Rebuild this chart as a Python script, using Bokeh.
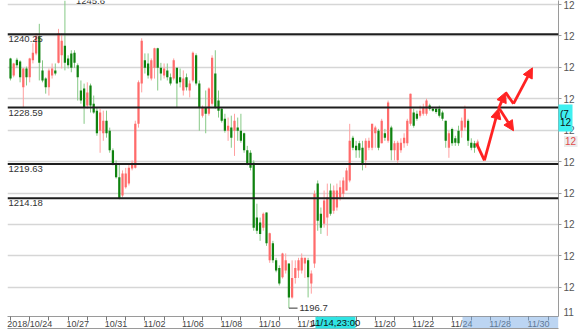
from bokeh.plotting import figure
from bokeh.models import (Span, Label, Arrow, NormalHead, FixedTicker, GridBox,
                          Range1d, ColumnDataSource)
from bokeh.embed import file_html
from bokeh.resources import INLINE
from bokeh.core.properties import value

# ---------------- data (4H candles, index = bar number) ----------------
opens = [1236.4, 1233.7, 1236.2, 1235.9, 1231.8, 1234.8, 1233.4, 1236.1, 1237.2, 1239.9,
         1234.5, 1233.2, 1231.8, 1233.7, 1234.5, 1235.7, 1236.9, 1238.4, 1236.4, 1237.2,
         1237.3, 1235.3, 1231.3, 1231.6, 1228.9, 1232.1, 1229.2, 1228.1, 1224.9, 1224.5,
         1226.5, 1224.9, 1221.8, 1219.7, 1217.5, 1214.6, 1215.9, 1216.5, 1218.9, 1219.0,
         1226.0, 1232.4, 1236.1, 1235.6, 1233.2, 1234.9, 1238.0, 1234.9, 1233.7, 1234.5,
         1233.4, 1233.2, 1234.9, 1233.4, 1231.3, 1233.4, 1231.3, 1232.9, 1236.9, 1232.4,
         1227.3, 1228.6, 1227.6, 1229.2, 1234.0, 1229.7, 1228.4, 1226.8, 1224.9, 1225.4,
         1224.9, 1225.4, 1224.9, 1224.5, 1221.8, 1221.4, 1219.8, 1211.1, 1210.3, 1209.5,
         1211.9, 1204.3, 1207.0, 1204.3, 1203.1, 1201.6, 1202.7, 1203.8, 1198.4, 1201.5,
         1202.7, 1202.7, 1203.8, 1204.3, 1200.6, 1203.8, 1216.5, 1211.7, 1210.1, 1211.1,
         1215.4, 1212.2, 1212.7, 1214.3, 1214.9, 1215.4, 1217.0, 1223.8, 1222.5, 1222.9,
         1222.2, 1220.2, 1222.2, 1222.2, 1224.5, 1224.9, 1222.9, 1224.5, 1223.3, 1225.4,
         1221.8, 1220.2, 1221.8, 1222.9, 1222.9, 1226.0, 1227.8, 1227.6, 1227.3, 1227.6,
         1227.6, 1228.9, 1228.4, 1228.4, 1228.4, 1227.8, 1226.5, 1222.2, 1225.2, 1223.7,
         1224.9, 1224.9, 1225.4, 1226.5, 1223.0, 1222.9, 1222.4]
highs = [1236.5, 1235.7, 1236.5, 1236.1, 1234.9, 1235.1, 1236.5, 1238.8, 1240.4, 1241.9,
         1236.1, 1233.4, 1234.8, 1235.6, 1235.6, 1241.1, 1240.4, 1245.6, 1236.9, 1237.7,
         1237.7, 1235.6, 1232.9, 1232.4, 1232.6, 1232.4, 1230.5, 1228.6, 1228.4, 1228.1,
         1228.1, 1225.4, 1222.1, 1220.2, 1219.7, 1218.6, 1219.0, 1219.7, 1220.2, 1226.5,
         1232.9, 1239.6, 1237.2, 1237.2, 1236.4, 1238.1, 1238.1, 1235.7, 1235.6, 1235.6,
         1234.0, 1236.4, 1234.9, 1234.8, 1234.5, 1234.0, 1232.9, 1237.5, 1237.2, 1232.9,
         1228.9, 1231.3, 1231.8, 1236.9, 1237.7, 1231.3, 1228.6, 1227.6, 1227.0, 1227.3,
         1227.6, 1227.0, 1227.6, 1224.6, 1222.5, 1221.8, 1220.2, 1213.3, 1211.1, 1211.9,
         1211.9, 1208.7, 1207.4, 1204.7, 1203.5, 1205.5, 1205.4, 1203.8, 1204.3, 1204.3,
         1204.7, 1205.4, 1204.7, 1204.7, 1202.7, 1215.4, 1217.0, 1212.7, 1215.4, 1216.5,
         1216.5, 1216.2, 1216.5, 1217.0, 1217.5, 1219.0, 1226.0, 1224.1, 1223.3, 1223.3,
         1223.3, 1223.7, 1223.8, 1226.0, 1225.7, 1225.2, 1226.8, 1225.2, 1229.7, 1225.7,
         1223.3, 1223.3, 1223.7, 1224.5, 1226.8, 1230.8, 1228.4, 1228.1, 1228.9, 1229.2,
         1230.0, 1229.2, 1228.6, 1228.6, 1228.9, 1228.1, 1226.5, 1224.9, 1225.4, 1224.1,
         1225.7, 1227.0, 1228.9, 1226.8, 1223.7, 1223.3, 1223.5]
lows = [1232.9, 1233.4, 1234.9, 1232.6, 1228.6, 1232.1, 1232.6, 1235.6, 1236.9, 1232.9,
        1232.6, 1230.8, 1230.5, 1233.2, 1233.7, 1235.6, 1234.8, 1234.5, 1234.8, 1234.2,
        1234.9, 1229.7, 1229.2, 1226.0, 1228.4, 1227.8, 1227.6, 1224.1, 1221.4, 1223.3,
        1223.8, 1221.4, 1219.4, 1217.3, 1214.0, 1214.3, 1215.7, 1216.2, 1218.6, 1218.9,
        1225.4, 1231.0, 1234.0, 1233.2, 1232.9, 1233.2, 1231.3, 1232.9, 1233.2, 1232.9,
        1232.1, 1232.9, 1228.6, 1231.8, 1230.5, 1231.3, 1230.2, 1232.6, 1232.1, 1224.9,
        1227.0, 1224.5, 1227.3, 1228.9, 1228.4, 1227.0, 1226.2, 1224.6, 1223.3, 1222.2,
        1220.9, 1223.3, 1223.0, 1221.4, 1219.4, 1218.6, 1209.0, 1208.5, 1207.4, 1209.0,
        1206.6, 1203.9, 1203.9, 1202.4, 1200.3, 1201.4, 1202.2, 1196.7, 1198.2, 1200.6,
        1201.5, 1202.2, 1201.5, 1198.4, 1199.0, 1203.1, 1209.0, 1208.5, 1209.5, 1208.2,
        1211.4, 1211.7, 1212.2, 1213.8, 1214.3, 1215.4, 1216.7, 1221.8, 1220.6, 1220.6,
        1218.6, 1219.0, 1221.8, 1221.8, 1222.2, 1221.8, 1222.9, 1223.3, 1223.0, 1220.2,
        1220.2, 1219.8, 1221.4, 1222.2, 1222.5, 1225.7, 1225.4, 1226.5, 1227.0, 1227.3,
        1227.3, 1228.1, 1227.9, 1227.6, 1227.0, 1226.5, 1222.2, 1220.6, 1222.5, 1222.5,
        1222.5, 1223.8, 1224.9, 1222.5, 1221.8, 1221.4, 1222.1]
closes = [1233.2, 1235.6, 1235.3, 1233.4, 1234.8, 1233.4, 1236.4, 1237.3, 1240.0, 1235.7,
          1232.9, 1231.8, 1234.5, 1234.8, 1234.0, 1240.4, 1239.2, 1235.7, 1235.3, 1234.9,
          1235.7, 1233.4, 1229.7, 1228.6, 1231.0, 1228.9, 1227.8, 1224.5, 1227.8, 1226.5,
          1224.5, 1221.8, 1219.7, 1217.5, 1214.1, 1218.1, 1218.1, 1219.0, 1219.8, 1226.0,
          1232.6, 1239.2, 1234.9, 1233.7, 1236.1, 1238.0, 1234.9, 1234.0, 1234.8, 1233.4,
          1232.4, 1236.1, 1232.4, 1232.6, 1233.2, 1231.8, 1232.4, 1237.3, 1232.4, 1228.6,
          1228.6, 1227.6, 1231.6, 1236.5, 1228.6, 1228.1, 1226.5, 1224.9, 1225.7, 1223.8,
          1226.5, 1224.9, 1223.3, 1221.8, 1219.7, 1219.0, 1209.5, 1209.0, 1208.5, 1211.7,
          1207.0, 1208.6, 1204.3, 1202.7, 1200.6, 1205.4, 1204.3, 1198.4, 1201.5, 1203.1,
          1204.3, 1204.7, 1204.7, 1201.6, 1202.2, 1214.9, 1210.6, 1209.5, 1213.8, 1214.3,
          1211.7, 1215.4, 1215.4, 1215.9, 1217.0, 1218.6, 1223.3, 1222.2, 1221.8, 1221.8,
          1219.7, 1223.3, 1223.3, 1226.0, 1225.4, 1222.2, 1226.5, 1223.8, 1229.4, 1221.8,
          1222.9, 1223.0, 1223.0, 1223.8, 1226.5, 1230.8, 1225.7, 1226.8, 1228.1, 1228.6,
          1229.7, 1228.4, 1228.1, 1227.9, 1227.3, 1226.8, 1223.3, 1224.5, 1222.9, 1223.0,
          1222.9, 1226.5, 1228.4, 1223.3, 1222.2, 1222.2, 1223.2]

levels = [1240.25, 1228.59, 1219.63, 1214.18]
level_labels = ["1240.25", "1228.59", "1219.63", "1214.18"]

price_ticks = [1200, 1205, 1210, 1215, 1220, 1225, 1230, 1235, 1240, 1245]
price_tick_text = ["12", "12", "12", "12", "12", "12", "12", "12", "12", "12"]

date_pos = [6, 21, 33, 45, 57, 69, 81, 93, 105, 117, 129, 141, 153, 165]
date_labels = ["2018/10/24", "10/27", "10/31", "11/02", "11/06", "11/08", "11/10",
               "11/14", "11/16", "11/20", "11/22", "11/24", "11/28", "11/30"]
day_ticks = list(range(0, 172, 6))

high_mark = (17, 1245.6, "1245.6")
low_mark = (87, 1196.7, "1196.7")
cursor_bar = (95.3, 107.8)          # cursor time tag spans these bar positions
cursor_text = "11/14,23:00"
future_start = 141.25
cross_price = (1229.07, 1224.78)    # cyan price tag on the right axis
cross_text = ["(7", "12"]
last_price_text = "12"
axis_low_text = "11"

# forecast arrows: main path and alternative branch
fc_x = [145.6, 148.1, 152.5, 154.7, 157.2, 163.1]
fc_y = [1222.9, 1220.2, 1228.4, 1231.0, 1229.2, 1234.9]
fc_head = [False, True, True, False, True]
alt_x = [152.8, 157.2]
alt_y = [1228.4, 1224.9]

# ---------------- geometry ----------------
W, H = 581, 334
BL, BR, BT, BB = 7, 23, 0, 18
X0, X1 = -0.94, 171.25
Y0, Y1 = 1195.37, 1245.61
FONT = "Liberation Sans"

# ---------------- main figure ----------------
n = len(closes)
xs = list(range(n))
up = [c >= o for o, c in zip(opens, closes)]
body_top = [max(o, c) for o, c in zip(opens, closes)]
body_bot = [min(o, c) if abs(o - c) > 0.2 else max(o, c) - 0.2 for o, c in zip(opens, closes)]
body_col = ["#ff6b6b" if u else "#0f820f" for u in up]
wick_col = ["#ffa0a0" if u else "#86c986" for u in up]

src = ColumnDataSource(dict(x=xs, high=highs, low=lows, top=body_top, bot=body_bot,
                            bc=body_col, wc=wick_col))

p = figure(width=W, height=H, output_backend="svg", toolbar_location=None,
           x_range=Range1d(X0, X1), y_range=Range1d(Y0, Y1),
           y_axis_location="right", min_border_left=BL, min_border_right=BR,
           min_border_top=BT, min_border_bottom=BB)
p.frame_align = False
p.outline_line_color = None
p.background_fill_color = "white"
p.border_fill_color = "white"
p.xgrid.visible = False
p.ygrid.grid_line_color = "#d6d6d6"
p.ygrid.grid_line_width = 1.5

p.yaxis.ticker = FixedTicker(ticks=price_ticks)
p.yaxis.major_label_overrides = {t: s for t, s in zip(price_ticks, price_tick_text)}
p.yaxis.axis_line_color = "#9a9a9a"
p.yaxis.major_tick_out = 3
p.yaxis.major_tick_in = 0
p.yaxis.minor_tick_line_color = None
p.yaxis.major_tick_line_color = "#9a9a9a"
p.yaxis.major_label_standoff = 2
p.yaxis.major_label_text_font_size = "10px"
p.yaxis.major_label_text_font = FONT
p.yaxis.major_label_text_color = "#555555"

p.xaxis.ticker = FixedTicker(ticks=date_pos, minor_ticks=day_ticks)
p.xaxis.major_label_overrides = {t: s for t, s in zip(date_pos, date_labels)}
p.xaxis.axis_line_color = "#9a9a9a"
p.xaxis.major_tick_out = 0
p.xaxis.major_tick_in = 0
p.xaxis.minor_tick_out = 4
p.xaxis.minor_tick_in = 0
p.xaxis.minor_tick_line_color = "#777777"
p.xaxis.major_label_standoff = -2
p.xaxis.major_label_text_font_size = "9px"
p.xaxis.major_label_text_font = FONT
p.xaxis.major_label_text_color = "#444444"

# candles
p.segment(x0="x", y0="high", x1="x", y1="low", source=src, line_color="wc", line_width=1)
p.vbar(x="x", width=0.7, top="top", bottom="bot", source=src, fill_color="bc", line_color=None)

# support / resistance lines
for lv, lt in zip(levels, level_labels):
    p.add_layout(Span(location=lv, dimension="width", line_color="#1e1e1e", line_width=2))
    p.add_layout(Label(x=1, x_units="screen", y=lv, y_offset=-2, text=lt,
                       text_baseline="top", text_align="left", text_font=FONT,
                       text_font_size="9.5px", text_color="#333333"))

# high / low marks
p.add_layout(Label(x=high_mark[0], y=high_mark[1], x_offset=11, text=high_mark[2],
                   text_baseline="middle", text_font=FONT, text_font_size="9.5px",
                   text_color="#333333"))
p.segment(x0=[low_mark[0]], y0=[low_mark[1]], x1=[low_mark[0] + 2.7], y1=[low_mark[1]],
          line_color="#333333", line_width=1)
p.add_layout(Label(x=low_mark[0], y=low_mark[1], x_offset=10.5, text=low_mark[2],
                   text_baseline="alphabetic", text_font=FONT, text_font_size="9.5px",
                   text_color="#333333"))

# forecast arrows
RED = "#ff2222"
for i in range(len(fc_x) - 1):
    head = NormalHead(size=10, fill_color=RED, line_color=RED) if fc_head[i] else None
    p.add_layout(Arrow(x_start=fc_x[i], y_start=fc_y[i], x_end=fc_x[i + 1], y_end=fc_y[i + 1],
                       line_color=RED, line_width=2.8, end=head))
p.add_layout(Arrow(x_start=alt_x[0], y_start=alt_y[0], x_end=alt_x[1], y_end=alt_y[1],
                   line_color=RED, line_width=2.8,
                   end=NormalHead(size=10, fill_color=RED, line_color=RED)))

# ---------------- transparent overlay for the axis-area tags ----------------
ux = (X1 - X0) / (W - BL - BR)      # bar units per pixel
uy = (Y1 - Y0) / (H - BT - BB)      # price units per pixel
q = figure(width=W, height=H, output_backend="svg", toolbar_location=None,
           x_range=Range1d(X0 - BL * ux, X1 + BR * ux),
           y_range=Range1d(Y0 - BB * uy, Y1 + BT * uy),
           x_axis_location=None, y_axis_location=None,
           min_border=0, background_fill_color=None, border_fill_color=None)
q.frame_align = False
q.outline_line_color = None
q.grid.visible = False

row_top = Y0 - 0.3 * uy
row_bot = Y0 - 12 * uy
row_mid = Y0 - 6.3 * uy
# future area on the time axis (translucent so the date labels show through)
q.quad(left=[future_start], right=[X1 - 0.3 * ux], top=[row_top], bottom=[row_bot],
       fill_color="#79abe5", line_color=None, fill_alpha=0.5)
q.segment(x0=[X0], y0=[row_bot], x1=[X1], y1=[row_bot], line_color="#9a9a9a", line_width=1)
# cursor time tag
q.quad(left=[cursor_bar[0]], right=[cursor_bar[1]], top=[row_top], bottom=[row_bot],
       fill_color="#2fe3e3", line_color=None)
q.text(x=[(cursor_bar[0] + cursor_bar[1]) / 2], y=[row_mid], text=[cursor_text],
       text_align="center", text_baseline="middle", text_font=value(FONT),
       text_font_size="9.5px", text_color="#111111")
# cyan price tag on the right axis
q.quad(left=[X1], right=[X1 + 14 * ux], top=[cross_price[0]], bottom=[cross_price[1]],
       fill_color="#3ff0f0", line_color=None)
mid = (cross_price[0] + cross_price[1]) / 2
q.text(x=[X1 + 1.5 * ux] * 2, y=[mid + 3.3 * uy, mid - 3.8 * uy], text=cross_text,
       text_align="left", text_baseline="middle", text_font=value(FONT),
       text_font_size="10px", text_color="#111111")
# last price tag
q.quad(left=[X1 + 5.5 * ux], right=[X1 + 19 * ux], top=[closes[-1] + 5.5 * uy],
       bottom=[closes[-1] - 5.5 * uy], fill_color="#ececec", line_color=None)
q.text(x=[X1 + 6.5 * ux], y=[closes[-1]], text=[last_price_text], text_align="left",
       text_baseline="middle", text_font=value(FONT), text_font_size="10px",
       text_color="#e04a4a")
# bottom price label on the right axis
q.text(x=[X1 + 5 * ux], y=[Y0 + 5 * uy], text=[axis_low_text], text_align="left",
       text_baseline="middle", text_font=value(FONT), text_font_size="10px",
       text_color="#555555")

layout = GridBox(children=[(p, 0, 0), (q, 0, 0)])
open("out.html", "w").write(file_html(layout, INLINE))
